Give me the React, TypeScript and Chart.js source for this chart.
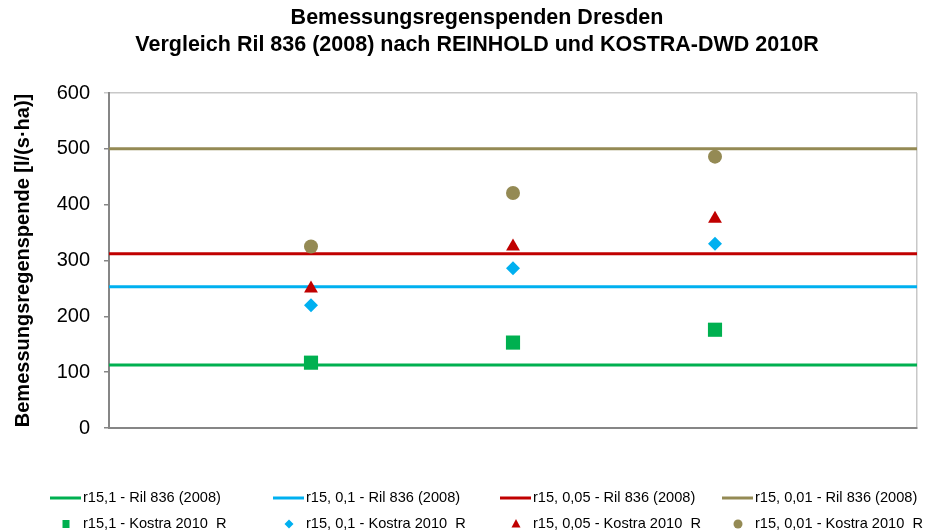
import React, { useEffect, useRef } from "react";
import { Chart, registerables } from "chart.js";

Chart.register(...registerables);

const titleLines = ["Bemessungsregenspenden Dresden", "Vergleich Ril 836 (2008) nach REINHOLD und KOSTRA-DWD 2010R"];
const yAxisTitle = "Bemessungsregenspende [l/(s·ha)]";

// x positions of the three KOSTRA points (category slots on a 0..4 axis)
const xPositions = [1, 2, 3];
const xMin = 0;
const xMax = 4;

// Ril 836 (2008) constant reference values
const rilLabels = ["r15,1 - Ril 836 (2008)", "r15, 0,1 - Ril 836 (2008)", "r15, 0,05 - Ril 836 (2008)", "r15, 0,01 - Ril 836 (2008)"];
const rilValues = [113, 253, 312, 500];

// KOSTRA-DWD 2010R values
const kostraLabels = ["r15,1 - Kostra 2010  R", "r15, 0,1 - Kostra 2010  R", "r15, 0,05 - Kostra 2010  R", "r15, 0,01 - Kostra 2010  R"];
const kostraR15_1 = [117, 153, 176];
const kostraR15_01 = [220, 286, 330];
const kostraR15_005 = [250, 325, 375];
const kostraR15_001 = [325, 421, 486];

const colors = ["#00B050", "#00B0F0", "#C00000", "#948A54"];
const pointStyles = ["rect", "rectRot", "triangle", "circle"];
const pointRadii = [10, 7, 8, 7];

const FONT = "'Liberation Sans', Arial, sans-serif";

const customPlugin = {
  id: "customTitleLegend",
  afterDraw(chart: any) {
    const ctx = chart.ctx;
    ctx.save();
    // title
    ctx.fillStyle = "#000";
    ctx.font = `bold 21.5px ${FONT}`;
    ctx.textAlign = "center";
    ctx.textBaseline = "middle";
    ctx.fillText(titleLines[0], 477, 18);
    ctx.fillText(titleLines[1], 477, 45);

    // legend
    const textX = [83, 306, 533, 755];
    const rowY = [498, 524];
    ctx.font = `14.6px ${FONT}`;
    ctx.textAlign = "left";
    for (let i = 0; i < 4; i++) {
      // line entry
      ctx.strokeStyle = colors[i];
      ctx.lineWidth = 3;
      ctx.beginPath();
      ctx.moveTo(textX[i] - 33, rowY[0]);
      ctx.lineTo(textX[i] - 2, rowY[0]);
      ctx.stroke();
      ctx.fillStyle = "#000";
      ctx.fillText(rilLabels[i], textX[i], rowY[0]);

      // marker entry
      const cx = textX[i] - 17;
      const cy = rowY[1];
      ctx.fillStyle = colors[i];
      ctx.beginPath();
      if (i === 0) {
        ctx.rect(cx - 3.5, cy - 4, 7, 8);
      } else if (i === 1) {
        ctx.moveTo(cx - 4.5, cy);
        ctx.lineTo(cx, cy - 4.5);
        ctx.lineTo(cx + 4.5, cy);
        ctx.lineTo(cx, cy + 4.5);
        ctx.closePath();
      } else if (i === 2) {
        ctx.moveTo(cx, cy - 5);
        ctx.lineTo(cx + 4.5, cy + 3.5);
        ctx.lineTo(cx - 4.5, cy + 3.5);
        ctx.closePath();
      } else {
        ctx.arc(cx, cy, 4.5, 0, Math.PI * 2);
      }
      ctx.fill();
      ctx.fillStyle = "#000";
      ctx.fillText(kostraLabels[i], textX[i], cy);
    }
    ctx.restore();
  },
};

export default function App() {
  const canvasRef = useRef<HTMLCanvasElement | null>(null);

  useEffect(() => {
    if (!canvasRef.current) return;
    const kostraSeries = [kostraR15_1, kostraR15_01, kostraR15_005, kostraR15_001];

    const lineDatasets = rilValues.map((v, i) => ({
      type: "line" as const,
      label: rilLabels[i],
      data: [
        { x: xMin, y: v },
        { x: xMax, y: v },
      ],
      borderColor: colors[i],
      backgroundColor: colors[i],
      borderWidth: 3,
      pointRadius: 0,
      showLine: true,
      order: 2,
    }));

    const pointDatasets = kostraSeries.map((series, i) => ({
      type: "scatter" as const,
      label: kostraLabels[i],
      data: series.map((y, j) => ({ x: xPositions[j], y })),
      backgroundColor: colors[i],
      borderColor: colors[i],
      pointStyle: pointStyles[i],
      pointRadius: pointRadii[i],
      pointHoverRadius: pointRadii[i],
      pointBorderWidth: 0,
      showLine: false,
      order: 1,
    }));

    const chart = new Chart(canvasRef.current, {
      type: "scatter",
      data: { datasets: [...lineDatasets, ...pointDatasets] as any },
      options: {
        animation: false,
        responsive: false,
        devicePixelRatio: 1,
        layout: { padding: { top: 93, right: 7, bottom: 103, left: 0 } },
        plugins: {
          legend: { display: false },
          title: { display: false },
          tooltip: { enabled: false },
        },
        scales: {
          x: {
            type: "linear",
            min: xMin,
            max: xMax,
            ticks: { display: false, stepSize: 1 },
            grid: {
              drawTicks: false,
              color: (c: any) => (c.tick && c.tick.value === xMax ? "#C8C8C8" : "rgba(0,0,0,0)"),
              lineWidth: 1.5,
            },
            border: { color: "#868686", width: 2 },
            afterFit: (scale: any) => {
              scale.height = 0;
            },
          },
          y: {
            type: "linear",
            min: 0,
            max: 600,
            ticks: {
              stepSize: 100,
              padding: 14,
              color: "#000",
              font: { family: FONT, size: 20 },
            },
            grid: {
              drawTicks: true,
              tickLength: 5,
              tickColor: (c: any) => (c.tick && c.tick.value === 600 ? "#C8C8C8" : "#868686"),
              tickWidth: 1.5,
              color: (c: any) => (c.tick && c.tick.value === 600 ? "#C8C8C8" : "rgba(0,0,0,0)"),
              lineWidth: 1.5,
            },
            border: { color: "#868686", width: 2 },
            title: {
              display: true,
              text: yAxisTitle,
              color: "#000",
              font: { family: FONT, size: 20, weight: "bold" },
              padding: { top: 11, bottom: 0 },
            },
            afterFit: (scale: any) => {
              scale.width = 109;
            },
          },
        },
      },
      plugins: [customPlugin],
    });

    return () => chart.destroy();
  }, []);

  return (
    <div style={{ position: "fixed", left: 0, top: 0, width: 927, height: 531, background: "#fff" }}>
      <canvas ref={canvasRef} width={927} height={531} style={{ display: "block" }} />
    </div>
  );
}
